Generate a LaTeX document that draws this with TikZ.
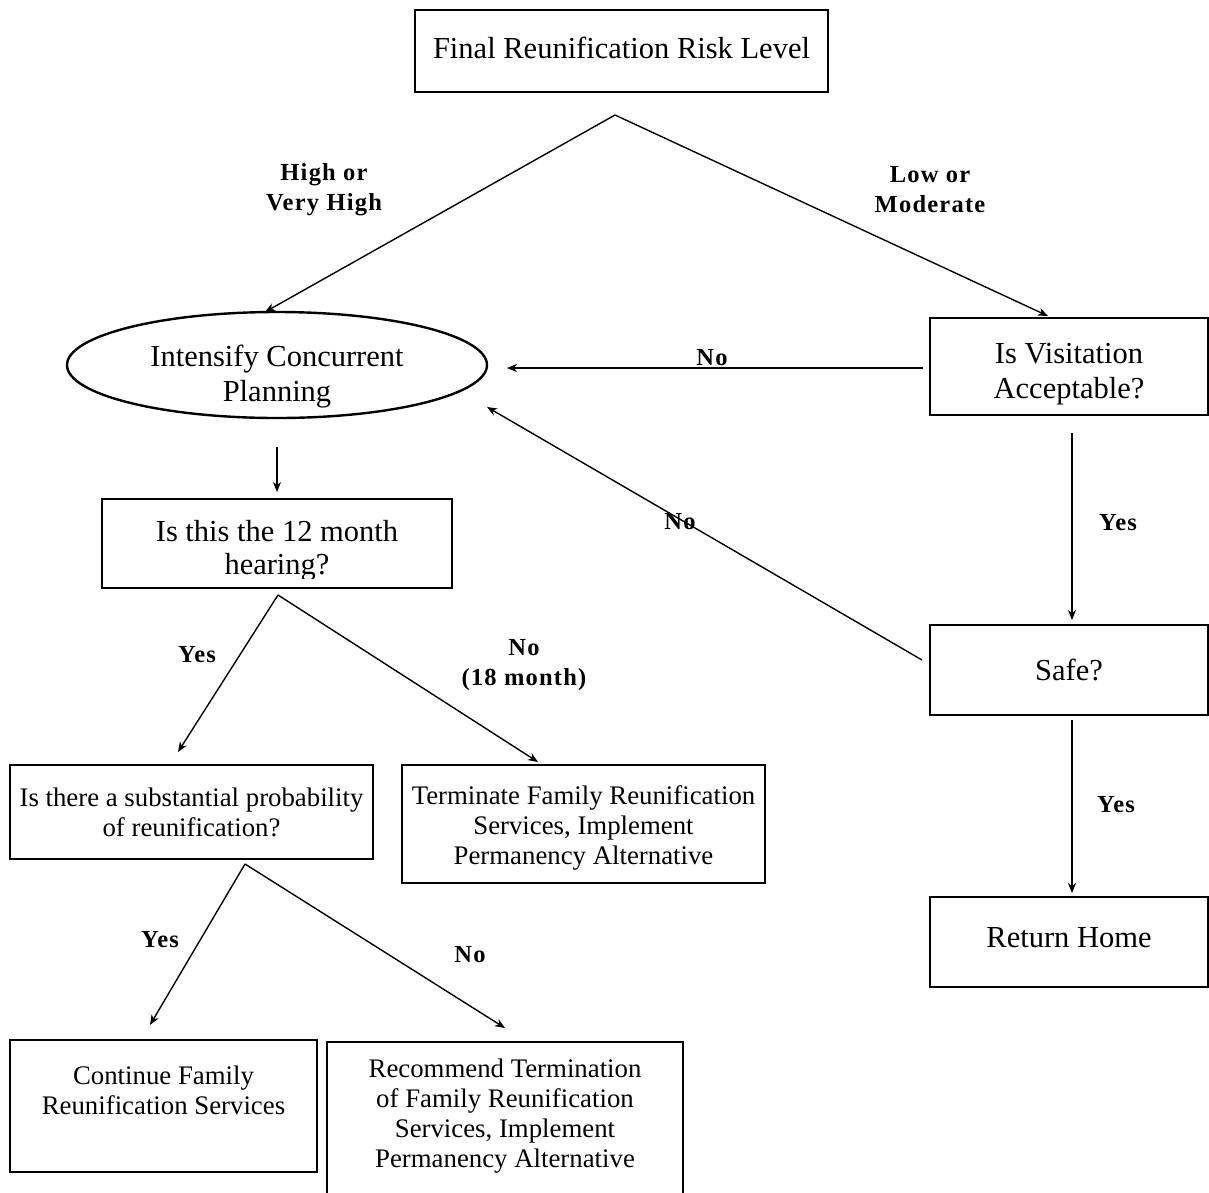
\documentclass[tikz,border=0pt]{standalone}
\usepackage{fontspec}
\setmainfont{Liberation Serif}
\newfontfamily\lblfont{Liberation Serif}[LetterSpace=5]
\usetikzlibrary{shapes.geometric,arrows.meta}
\newcommand\mybig{\fontsize{30.5}{35}\selectfont}
\newcommand\mybigtight{\fontsize{30.5}{33}\selectfont}
\newcommand\mysmall{\fontsize{26.8}{30}\selectfont}
\newcommand\mylbl{\lblfont\bfseries\fontsize{24.5}{30}\selectfont}
\tikzset{
  box/.style={draw, line width=2.4pt, inner sep=0pt, align=center, font=\mybig},
  sbox/.style={box, font=\mysmall},
  txt/.style={inner sep=0pt, align=center, font=\mybig},
  stxt/.style={inner sep=0pt, align=center, font=\mysmall},
  arr/.style={line width=1.4pt, -{Stealth[length=10pt,width=8pt,inset=3pt]}},
  lbl/.style={font=\mylbl, align=center, inner sep=0pt}
}
\begin{document}
\begin{tikzpicture}[x=1pt,y=-1pt]
\useasboundingbox (0,0) rectangle (1209,1192);
\clip (0,0) rectangle (1209,1192);

% nodes
\node[box, minimum width=413pt, minimum height=82pt] (title) at (621.5,51) {};
\node[txt] (titletext) at (621.5,48) {Final Reunification Risk Level};
\node[box, ellipse, minimum width=420pt, minimum height=106pt] (plan) at (277,365) {};
\node[txt] (plantext) at (277,377) {Intensify Concurrent\\Planning};
\node[box, minimum width=278pt, minimum height=97pt] (vis) at (1069,366.5) {};
\node[txt] (vistext) at (1069,374) {Is Visitation\\Acceptable?};
\node[box, minimum width=278pt, minimum height=90pt] (safe) at (1069,670) {Safe?};
\node[box, minimum width=278pt, minimum height=90pt] (home) at (1069,942) {};
\node[txt] (hometext) at (1069,938) {Return Home};
\node[box, minimum width=350pt, minimum height=89pt] (twelve) at (277,543.5) {};
\begin{scope}
  \clip (102,499) rectangle (452,578);
  \node[txt, font=\mybigtight] (twelvetext) at (277,551) {Is this the 12 month\\hearing?};
\end{scope}
\node[sbox, minimum width=363pt, minimum height=94pt] (subst) at (191.5,812) {};
\node[stxt] (substtext) at (191.5,812) {Is there a substantial probability\\of reunification?};
\node[sbox, minimum width=363pt, minimum height=118pt] (term) at (583.5,824) {};
\node[stxt] (termtext) at (583.5,828) {Terminate Family Reunification\\Services, Implement\\Permanency Alternative};
\node[sbox, minimum width=307pt, minimum height=132pt] (cont) at (163.5,1106) {};
\node[stxt] (conttext) at (163.5,1090) {Continue Family\\Reunification Services};
\node[sbox, minimum width=356pt, minimum height=160pt] (rec) at (505,1122) {};
\node[stxt] (rectext) at (505,1116) {Recommend Termination\\of Family Reunification\\Services, Implement\\Permanency Alternative};

% connector end points
\coordinate (ap1) at (615,115);
\coordinate (e1) at (265,312);
\coordinate (e2) at (1048,316);
\coordinate (v1) at (923,368);
\coordinate (v2) at (507,368);
\coordinate (s1) at (922,660);
\coordinate (s2) at (487,407);
\coordinate (p1) at (277,447);
\coordinate (p2) at (277,492);
\coordinate (ap2) at (278,595);
\coordinate (t1) at (178,752);
\coordinate (t2) at (538,762);
\coordinate (ap3) at (245,864);
\coordinate (u1) at (150,1025);
\coordinate (u2) at (505,1028);
\coordinate (w1) at (1072,433);
\coordinate (w2) at (1072,620);
\coordinate (x1) at (1072,720);
\coordinate (x2) at (1072,893);

% connectors
\draw[arr] (ap1) -- (e1);
\draw[arr] (ap1) -- (e2);
\draw[arr] (v1) -- (v2);
\draw[arr] (s1) -- (s2);
\draw[arr] (p1) -- (p2);
\draw[arr] (ap2) -- (t1);
\draw[arr] (ap2) -- (t2);
\draw[arr] (ap3) -- (u1);
\draw[arr] (ap3) -- (u2);
\draw[arr] (w1) -- (w2);
\draw[arr] (x1) -- (x2);

% labels
\node[lbl] (l1) at (324,190) {High or\\Very High};
\node[lbl] (l2) at (930,190) {Low or\\Moderate};
\node[lbl] (l3) at (712,358) {No};
\node[lbl] (l4) at (680,522) {No};
\node[lbl] (l5) at (1118,523) {Yes};
\node[lbl] (l6) at (1116,805) {Yes};
\node[lbl] (l7) at (197,655) {Yes};
\node[lbl] (l8) at (524,665) {No\\(18 month)};
\node[lbl] (l9) at (160,940) {Yes};
\node[lbl] (l10) at (470,955) {No};
\end{tikzpicture}
\end{document}
